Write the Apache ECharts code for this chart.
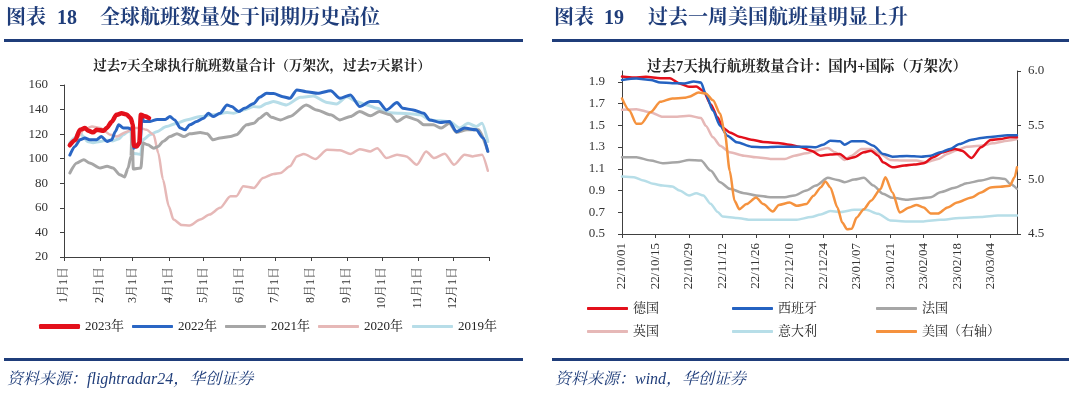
<!DOCTYPE html>
<html><head><meta charset="utf-8">
<script src="https://cdn.jsdelivr.net/npm/echarts@6/dist/echarts.min.js"></script>
<style>html,body{margin:0;padding:0;background:#fff}#c{width:1080px;height:393px}</style>
</head><body><div id="c"></div>
<script>
// ---------- Left chart: global flights (day-of-year index, value) ----------
const monthStartDays = [0,31,59,90,120,151,181,212,243,273,304,334];
const monthLabels = ['1月1日','2月1日','3月1日','4月1日','5月1日','6月1日','7月1日','8月1日','9月1日','10月1日','11月1日','12月1日'];
const yearEndDay = 365;
const leftYTicks = [20,40,60,80,100,120,140,160];

const y2023 = [[5,111],[9.5,115],[13.7,123.5],[18,125],[21,122.7],[25,121.5],[28,123.5],[34,122.7],[36.7,125],[41,130],[45,135.7],[49.5,137],[53.8,136],[57.3,133],[59,128],[60,110.5],[62.4,110],[64.7,113],[66,135.7],[69.6,134.5],[73,133]];
const y2022 = [[5,103],[9.5,110],[13.7,115.4],[18,116.8],[22,115.4],[28,115.4],[32,118],[37,114],[41,115.4],[44,122],[47,127.6],[51,125],[55,125],[59,123.5],[60,108.6],[64,111.3],[65.5,114],[67,134.3],[68.5,130.3],[74,130.3],[80,132],[87,132],[91,134.3],[95,131.6],[100,124.9],[104,123.5],[108,127.6],[114,130.3],[120,133],[124,137],[128,134.3],[134,137],[140,143.8],[144,142.4],[150,138.4],[155,141],[163,145],[168,150],[174,153.2],[180,153],[188,150.5],[194,149.2],[200,156],[208,154.6],[218,153.2],[229,155.4],[237,149.2],[246,151.9],[254,142.4],[263,146.5],[270,146.5],[277,139.7],[286,145.7],[291,141],[300,139.7],[309,137],[314,131.6],[323,129.5],[331,130.3],[337,122],[344,124.9],[354,123.5],[360,116.8],[364,106]];
const y2021 = [[5,88.4],[11,96.5],[17,99.2],[22,96.5],[31,92.4],[37,93.8],[42,92.4],[48,87],[52,85.1],[55,92.4],[57.5,101.9],[58.5,126],[59.5,91.6],[66,92.4],[68,112.7],[72,111.3],[77,108.6],[81,110],[85,114],[91,118],[97,120.3],[103,118],[108,120.3],[117,121.3],[123,120.3],[128,115.4],[134,116.8],[143,118],[148,119.5],[157,127.6],[163,128.9],[168,133],[174,137],[178,133.8],[186,131.6],[194,134.3],[208,143.8],[217,139.7],[229,135.7],[237,131.6],[246,134.3],[254,138.4],[263,134.9],[271,138.4],[280,135.7],[286,130.3],[294,134.3],[303,131.6],[309,127.6],[317,127.6],[324,124.9],[331,128.9],[337,121.3],[346,123.5],[356,123.5],[364,106]];
const y2020 = [[5,110],[11,116.8],[17,123.5],[24,126.2],[31,125],[40,119.5],[45,118],[54,122],[60,125],[65,125],[71,123.5],[77,119.5],[81,104.6],[85,83],[90,61.3],[94,50.5],[101,46],[108,45.7],[117,50.5],[125,54.6],[134,60],[143,69.4],[148,69.4],[154,77.6],[163,76.2],[171,84.3],[180,87.6],[186,88.4],[194,93.8],[200,101.9],[206,103.8],[216,99.8],[226,107.3],[237,106.8],[246,103.8],[254,107.8],[263,105.9],[269,108.6],[277,100.5],[286,103.2],[294,101.9],[303,95.1],[311,105.9],[318,100.5],[327,104],[335,95.1],[344,103.2],[351,101.9],[359,103.2],[364,90.2]];
const y2019 = [[5,113],[9.5,117],[13,122.5],[16.6,118],[20,114],[25,113],[31,114],[36.7,115],[42,114.5],[46.7,116],[51,119.5],[55,122],[57.5,123.5],[58.4,104.6],[62.4,104],[65.9,103.5],[67.6,115.4],[74,119.5],[79.6,122],[88,126.2],[96.8,128.9],[105,131.6],[117,134.3],[128,135.7],[140,137.6],[145.5,137],[154,139.7],[162.7,142.4],[168,142],[174,145],[180,146.5],[191,143.8],[203,150],[214,151],[226,145.7],[234,144.6],[243,150.5],[251,146.5],[260,143.8],[269,141],[277,137.6],[289,137],[297,136.5],[306,135.7],[314,131.6],[323,130.8],[331,130.3],[340,124.9],[347,128.9],[354,126.2],[359,128.9],[364,114]];

// ---------- Right chart: days since 22/10/01 ----------
const usTickDays = [0,14,28,42,56,70,84,98,112,126,140,154];
const usTickLabels = ['22/10/01','22/10/15','22/10/29','22/11/12','22/11/26','22/12/10','22/12/24','23/01/07','23/01/21','23/02/04','23/02/18','23/03/04'];
const usLastDay = 165;
const leftAxisTicks = [0.5,0.7,0.9,1.1,1.3,1.5,1.7,1.9];

const germany = [[0,1.949],[5,1.94],[10,1.946],[16,1.934],[20,1.934],[24,1.885],[28,1.854],[31,1.857],[34,1.817],[37,1.695],[40,1.573],[42,1.481],[45,1.435],[49,1.396],[54,1.368],[59,1.347],[65,1.338],[70,1.322],[74,1.304],[79,1.267],[83,1.221],[87,1.231],[91,1.237],[94,1.191],[97,1.206],[101,1.252],[104,1.267],[107,1.221],[109,1.16],[113,1.114],[118,1.13],[122,1.139],[126,1.151],[130,1.206],[134,1.252],[139,1.283],[142,1.267],[146,1.2],[150,1.298],[154,1.365],[158,1.374],[162,1.39],[165,1.39]];
const spain = [[0,1.918],[6,1.93],[12,1.918],[16,1.894],[21,1.888],[26,1.885],[30,1.903],[33,1.894],[35,1.787],[38,1.634],[41,1.497],[44,1.405],[48,1.344],[54,1.304],[59,1.298],[65,1.304],[72,1.304],[77,1.304],[81,1.298],[84,1.322],[87,1.359],[91,1.353],[93,1.322],[96,1.353],[101,1.353],[105,1.313],[109,1.237],[113,1.212],[119,1.218],[125,1.212],[129,1.221],[133,1.252],[137,1.283],[141,1.328],[146,1.368],[150,1.383],[155,1.396],[161,1.408],[165,1.408]];
const france = [[0,1.206],[6,1.206],[12,1.176],[17,1.151],[23,1.16],[28,1.182],[33,1.176],[37,1.084],[41,0.977],[45,0.916],[51,0.876],[56,0.855],[62,0.839],[68,0.839],[72,0.855],[77,0.9],[81,0.946],[86,1.017],[90,0.998],[93,0.977],[97,1.001],[101,1.017],[105,0.946],[109,0.87],[113,0.833],[119,0.815],[125,0.83],[129,0.839],[133,0.885],[139,0.925],[144,0.968],[150,0.992],[155,1.017],[160,1.007],[162,0.962],[165,0.916]];
const uk = [[0,1.643],[6,1.649],[12,1.619],[17,1.579],[23,1.579],[28,1.588],[33,1.567],[35,1.497],[38,1.39],[41,1.313],[45,1.252],[51,1.221],[56,1.206],[62,1.191],[68,1.191],[72,1.221],[77,1.243],[81,1.267],[86,1.292],[89,1.252],[93,1.182],[96,1.221],[100,1.283],[104,1.283],[108,1.237],[112,1.182],[118,1.176],[123,1.176],[127,1.16],[132,1.191],[136,1.237],[140,1.273],[144,1.304],[150,1.313],[155,1.334],[161,1.359],[165,1.374]];
const italy = [[0,1.029],[5,1.023],[9,0.992],[13,0.962],[17,0.946],[21,0.937],[24,0.9],[28,0.855],[31,0.876],[34,0.855],[37,0.778],[40,0.702],[42,0.662],[48,0.647],[54,0.631],[61,0.631],[68,0.631],[73,0.631],[79,0.656],[83,0.68],[87,0.711],[91,0.702],[97,0.723],[102,0.723],[107,0.686],[112,0.625],[119,0.616],[126,0.616],[133,0.631],[141,0.647],[150,0.656],[157,0.671],[165,0.671]];
const usa = [[0,5.747],[3,5.639],[6,5.515],[8,5.515],[12,5.623],[16,5.716],[21,5.747],[26,5.753],[28,5.762],[32,5.802],[35,5.793],[38,5.731],[41,5.608],[43,5.423],[45,5.083],[47,4.806],[49,4.728],[52,4.775],[56,4.836],[59,4.775],[63,4.707],[65.5,4.768],[70,4.79],[73,4.759],[77,4.775],[80,4.852],[83,4.929],[85,4.984],[87,4.929],[90,4.744],[92,4.605],[94,4.543],[96,4.549],[98,4.651],[101,4.728],[104,4.806],[108,4.914],[110,5.022],[113,4.883],[116,4.698],[120,4.744],[123,4.768],[126,4.744],[129,4.688],[132,4.688],[136,4.744],[140,4.79],[146,4.836],[150,4.883],[154,4.929],[158,4.935],[162,4.944],[164,5.022],[165,5.114]];

// ---------- styling ----------
const SERIF = "'Liberation Serif','Noto Serif CJK SC','Noto Sans CJK SC',serif";
const NAVY = '#1F3D7A';
const AX = '#404040';
const TXT = '#333333';

function lineSeries(name, data, color, width, xi, yi, z) {
  return { name, type: 'line', data, xAxisIndex: xi, yAxisIndex: yi, showSymbol: false, symbol: 'none',
    smooth: 0.25, smoothMonotone: 'x', z: z,
    lineStyle: { color, width, cap: 'round', join: 'round' }, itemStyle: { color } };
}
function legendItem(name, left, top, h) {
  return { data: [name], left, top, icon: 'roundRect', itemWidth: 41, itemHeight: h, padding: 0,
    textStyle: { fontFamily: SERIF, fontSize: 13, color: '#222' } };
}
const dayLabel = {};
monthStartDays.forEach((d, i) => dayLabel[d] = monthLabels[i]);
const usLabel = {};
usTickDays.forEach((d, i) => usLabel[d] = usTickLabels[i]);

const chart = echarts.init(document.getElementById('c'), null, { renderer: 'canvas' });
chart.setOption({
  animation: false,
  backgroundColor: '#fff',
  grid: [
    { left: 64, top: 85, width: 425, height: 172 },
    { left: 622, top: 71, width: 395, height: 163 }
  ],
  xAxis: [
    { gridIndex: 0, type: 'value', min: 0, max: yearEndDay,
      axisLine: { show: true, lineStyle: { color: AX } },
      axisTick: { show: true, length: 4, customValues: monthStartDays.concat([yearEndDay]), lineStyle: { color: AX } },
      axisLabel: { customValues: monthStartDays, rotate: 90, margin: 10, fontFamily: SERIF, fontSize: 12, color: TXT,
        formatter: v => dayLabel[Math.round(v)] || '' },
      splitLine: { show: false } },
    { gridIndex: 1, type: 'value', min: 0, max: usLastDay,
      axisLine: { show: true, onZero: false, lineStyle: { color: AX } },
      axisTick: { show: true, length: 4, customValues: usTickDays, lineStyle: { color: AX } },
      axisLabel: { customValues: usTickDays, rotate: 90, margin: 9, fontFamily: SERIF, fontSize: 13, color: TXT,
        formatter: v => usLabel[Math.round(v)] || '' },
      splitLine: { show: false } }
  ],
  yAxis: [
    { gridIndex: 0, type: 'value', min: 20, max: 160, interval: 20,
      axisLine: { show: true, lineStyle: { color: AX } },
      axisTick: { show: true, length: 4, lineStyle: { color: AX } },
      axisLabel: { margin: 16, fontFamily: SERIF, fontSize: 13, color: TXT },
      splitLine: { show: false } },
    { gridIndex: 1, type: 'value', min: 0.5, max: 2.0, position: 'left',
      axisLine: { show: true, onZero: false, lineStyle: { color: AX } },
      axisTick: { show: true, length: 4, customValues: leftAxisTicks, lineStyle: { color: AX } },
      axisLabel: { customValues: leftAxisTicks, margin: 17, fontFamily: SERIF, fontSize: 13, color: TXT,
        formatter: v => v.toFixed(1) },
      splitLine: { show: false } },
    { gridIndex: 1, type: 'value', min: 4.5, max: 6.0, interval: 0.5, position: 'right',
      axisLine: { show: true, onZero: false, lineStyle: { color: AX } },
      axisTick: { show: true, length: 4, lineStyle: { color: AX } },
      axisLabel: { margin: 11, fontFamily: SERIF, fontSize: 13, color: TXT, formatter: v => v.toFixed(1) },
      splitLine: { show: false } }
  ],
  legend: [
    legendItem('2023年', 39, 320, 5),
    legendItem('2022年', 132, 320, 3),
    legendItem('2021年', 225, 320, 3),
    legendItem('2020年', 318, 320, 3),
    legendItem('2019年', 412, 320, 3),
    legendItem('德国', 587, 302, 3),
    legendItem('西班牙', 732, 302, 3),
    legendItem('法国', 876, 302, 3),
    legendItem('英国', 587, 325, 3),
    legendItem('意大利', 732, 325, 3),
    legendItem('美国（右轴）', 876, 325, 3)
  ],
  series: [
    lineSeries('2019年', y2019, '#B7DDE8', 3, 0, 0, 2),
    lineSeries('2020年', y2020, '#E6B8B7', 2.5, 0, 0, 3),
    lineSeries('2021年', y2021, '#A6A6A6', 3, 0, 0, 4),
    lineSeries('2022年', y2022, '#2A66C4', 3, 0, 0, 5),
    lineSeries('2023年', y2023, '#E3101B', 4.5, 0, 0, 6),
    lineSeries('德国', germany, '#E3101B', 2.5, 1, 1, 3),
    lineSeries('西班牙', spain, '#2462C1', 2.5, 1, 1, 4),
    lineSeries('法国', france, '#A6A6A6', 2.5, 1, 1, 3),
    lineSeries('英国', uk, '#E6B8B7', 2.5, 1, 1, 2),
    lineSeries('意大利', italy, '#B7DEE8', 2.5, 1, 1, 2),
    lineSeries('美国（右轴）', usa, '#F5923E', 2.5, 1, 2, 6)
  ],
  graphic: [
    { type: 'text', x: 6, y: 19, style: { text: '图表', font: "bold 20px " + SERIF, fill: NAVY, verticalAlign: 'middle' } },
    { type: 'text', x: 57, y: 19, style: { text: '18', font: "bold 20px " + SERIF, fill: NAVY, verticalAlign: 'middle' } },
    { type: 'text', x: 100, y: 19, style: { text: '全球航班数量处于同期历史高位', font: "bold 20px " + SERIF, fill: NAVY, verticalAlign: 'middle' } },
    { type: 'rect', shape: { x: 4, y: 39, width: 519, height: 3 }, style: { fill: NAVY } },
    { type: 'text', x: 554, y: 19, style: { text: '图表', font: "bold 20px " + SERIF, fill: NAVY, verticalAlign: 'middle' } },
    { type: 'text', x: 604, y: 19, style: { text: '19', font: "bold 20px " + SERIF, fill: NAVY, verticalAlign: 'middle' } },
    { type: 'text', x: 648, y: 19, style: { text: '过去一周美国航班量明显上升', font: "bold 20px " + SERIF, fill: NAVY, verticalAlign: 'middle' } },
    { type: 'rect', shape: { x: 552, y: 39, width: 517, height: 3 }, style: { fill: NAVY } },
    { type: 'text', x: 262, y: 67, style: { text: '过去7天全球执行航班数量合计（万架次，过去7天累计）', font: "bold 13.5px " + SERIF, fill: '#222', align: 'center', verticalAlign: 'middle' } },
    { type: 'text', x: 807, y: 67, style: { text: '过去7天执行航班数量合计：国内+国际（万架次）', font: "bold 14.5px " + SERIF, fill: '#222', align: 'center', verticalAlign: 'middle' } },
    { type: 'rect', shape: { x: 4, y: 358, width: 519, height: 3 }, style: { fill: NAVY } },
    { type: 'rect', shape: { x: 552, y: 358, width: 517, height: 3 }, style: { fill: NAVY } },
    { type: 'text', x: 7, y: 380, style: { text: '资料来源：flightradar24，华创证券', font: "italic 16px " + SERIF, fill: NAVY, verticalAlign: 'middle' } },
    { type: 'text', x: 555, y: 380, style: { text: '资料来源：wind，华创证券', font: "italic 16px " + SERIF, fill: NAVY, verticalAlign: 'middle' } }
  ]
});
</script>
</body></html>
